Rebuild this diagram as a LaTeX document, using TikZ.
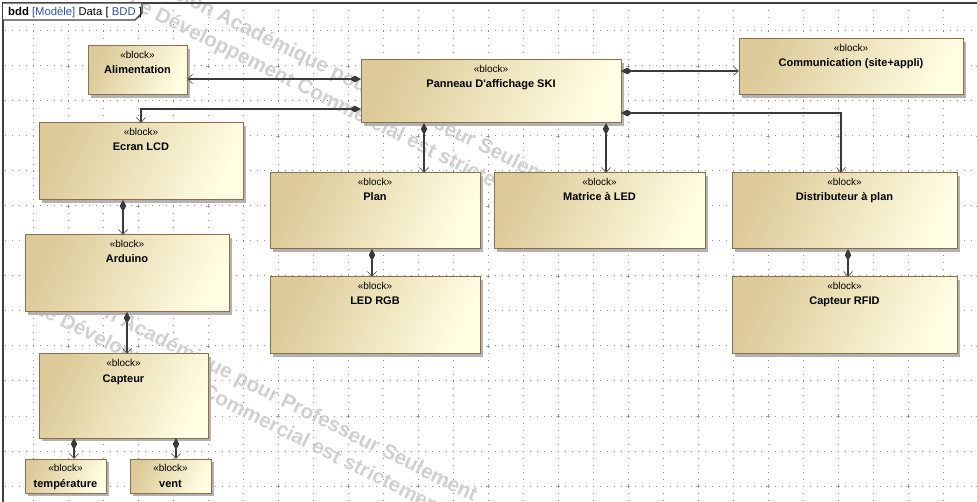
\documentclass[tikz,border=0pt]{standalone}
\usepackage{fontspec}
\setmainfont{Liberation Sans}
\newfontfamily\uml{Liberation Sans}
\usetikzlibrary{arrows.meta,shadows,calc}
\definecolor{blkA}{HTML}{DCCA98}
\definecolor{blkB}{HTML}{FFFDE2}
\definecolor{blkLine}{HTML}{8C6E4C}
\definecolor{conn}{HTML}{3A3A3A}
\definecolor{barb}{HTML}{5A5A5A}
\definecolor{gridc}{HTML}{8E8E8E}
\definecolor{wmc}{HTML}{D0D0D0}
\definecolor{hdrblue}{HTML}{2A52A8}
\definecolor{framec}{HTML}{404040}
\tikzset{
  blk/.style={draw=blkLine, line width=1pt, inner sep=0pt, outer sep=0pt,
    left color=blkA, right color=blkB, shading angle=65,
    drop shadow={shadow xshift=3pt, shadow yshift=-3pt, fill=black!30, opacity=1}},
  stereo/.style={anchor=base, inner sep=0pt, font=\uml\fontsize{10}{12}\selectfont},
  bname/.style={anchor=base, inner sep=0pt, font=\uml\bfseries\fontsize{11}{13}\selectfont},
  comp/.style={draw=conn, line width=1.1pt,
    arrows={Diamond[length=12pt,width=6.5pt,fill=conn,color=conn]-Straight Barb[length=5pt,width=9pt,line width=0.7pt,color=barb]}},
  griddot/.style={draw=gridc, line width=1pt, dash pattern=on 1pt off 6pt},
  gridplus/.style={draw=gridc!80, line width=0.6pt},
  wm/.style={anchor=base west, inner sep=0pt, text=wmc, rotate=-26.5,
    font=\uml\bfseries\fontsize{20.5}{25}\selectfont},
  framel/.style={draw=framec, line width=1.3pt}
}
\newcommand\mkblock[6]{%
  \node[blk, minimum width={(#4-#2)*1pt}, minimum height={(#5-#3)*1pt}] (#1) at ({(#2+#4)/2},{(#3+#5)/2}) {};
  \node[stereo] (#1-st) at ({(#2+#4)/2},{#3+12.5}) {«block»};
  \node[bname] (#1-nm) at ({(#2+#4)/2},{#3+28}) {#6};}
\begin{document}
\begin{tikzpicture}[x=1pt,y=-1pt]
\useasboundingbox (0,0) rectangle (977,502);
\clip (0,0) rectangle (977,502);
\fill[white] (0,0) rectangle (977,502);
% grid
\foreach \j in {0,...,13} {\draw[griddot] (5,{31+35*\j}) -- (977,{31+35*\j});}
\foreach \i in {0,...,27} {\draw[griddot] ({33+35*\i},3) -- ({33+35*\i},502);}
\foreach \i in {0,2,...,26} {\foreach \j in {0,2,...,12} {
  \draw[gridplus] ({68+35*\i-2},{66+35*\j}) -- ({68+35*\i+2},{66+35*\j});
  \draw[gridplus] ({68+35*\i},{66+35*\j-2}) -- ({68+35*\i},{66+35*\j+2});}}
% watermark
\node[wm] (wm1) at (144,-16) {Version Académique pour Professeur Seulement};
\node[wm] (wm2) at (127,6) {Le Développement Commercial est strictement interdit};
\node[wm] (wm3) at (48,290) {Version Académique pour Professeur Seulement};
\node[wm] (wm4) at (32,312) {Le Développement Commercial est strictement interdit};
% frame
\draw[framel] (3,502) -- (3,3) -- (977,3);
\draw[framel, fill=white] (3,3) -- (142,3) -- (142,13) -- (135,20) -- (3,20);
\node[anchor=base west, inner sep=0pt, font=\uml\fontsize{11.3}{13}\selectfont] (hdr) at (8,15.5)
  {\textbf{bdd} \textcolor{hdrblue}{[Modèle]} Data [ \textcolor{hdrblue}{BDD} ]};
% blocks
\mkblock{ali}{88}{46}{187}{95}{Alimentation}
\mkblock{pan}{361}{60}{621}{123}{Panneau D'affichage SKI}
\mkblock{com}{739}{39}{963}{95}{Communication (site+appli)}
\mkblock{lcd}{39}{123}{243}{200}{Ecran LCD}
\mkblock{ard}{25}{235}{229}{312}{Arduino}
\mkblock{cap}{39}{354}{208}{438}{Capteur}
\mkblock{tmp}{25}{459}{106}{493}{température}
\mkblock{vnt}{130}{459}{211}{493}{vent}
\mkblock{pln}{270}{173}{480}{249}{Plan}
\mkblock{mat}{494}{173}{705}{249}{Matrice à LED}
\mkblock{led}{270}{277}{480}{354}{LED RGB}
\mkblock{dis}{732}{173}{957}{249}{Distributeur à plan}
\mkblock{rfd}{732}{277}{957}{354}{Capteur RFID}
% connector anchors
\coordinate (pA) at ([yshift=-19pt]pan.north west);
\coordinate (pL) at ([yshift=-49pt]pan.north west);
\coordinate (pC) at ([yshift=-11pt]pan.north east);
\coordinate (pD) at ([yshift=-53pt]pan.north east);
\coordinate (pP) at ([xshift=63pt]pan.south west);
\coordinate (pM) at ([xshift=-15pt]pan.south east);
\coordinate (lA) at ([xshift=84pt]lcd.south west);
\coordinate (cT) at ([xshift=35pt]cap.south west);
\coordinate (cV) at ([xshift=137pt]cap.south west);
\coordinate (dN) at ([xshift=-3.5pt]dis.north);
\coordinate (dS) at ([xshift=3.5pt]dis.south);
\coordinate (plS) at ([xshift=-3pt]pln.south);
% connectors
\draw[comp] (pA) -- (pA -| ali.east);
\draw[comp] (pL) -| (lcd.north);
\draw[comp] (pC) -- (pC -| com.west);
\draw[comp] (pD) -| (dN);
\draw[comp] (pP) -- (pP |- pln.north);
\draw[comp] (pM) -- (pM |- mat.north);
\draw[comp] (lA) -- (lA |- ard.north);
\draw[comp] (ard.south) -- (ard.south |- cap.north);
\draw[comp] (plS) -- (plS |- led.north);
\draw[comp] (dS) -- (dS |- rfd.north);
\draw[comp] (cT) -- (cT |- tmp.north);
\draw[comp] (cV) -- (cV |- vnt.north);
\end{tikzpicture}
\end{document}
